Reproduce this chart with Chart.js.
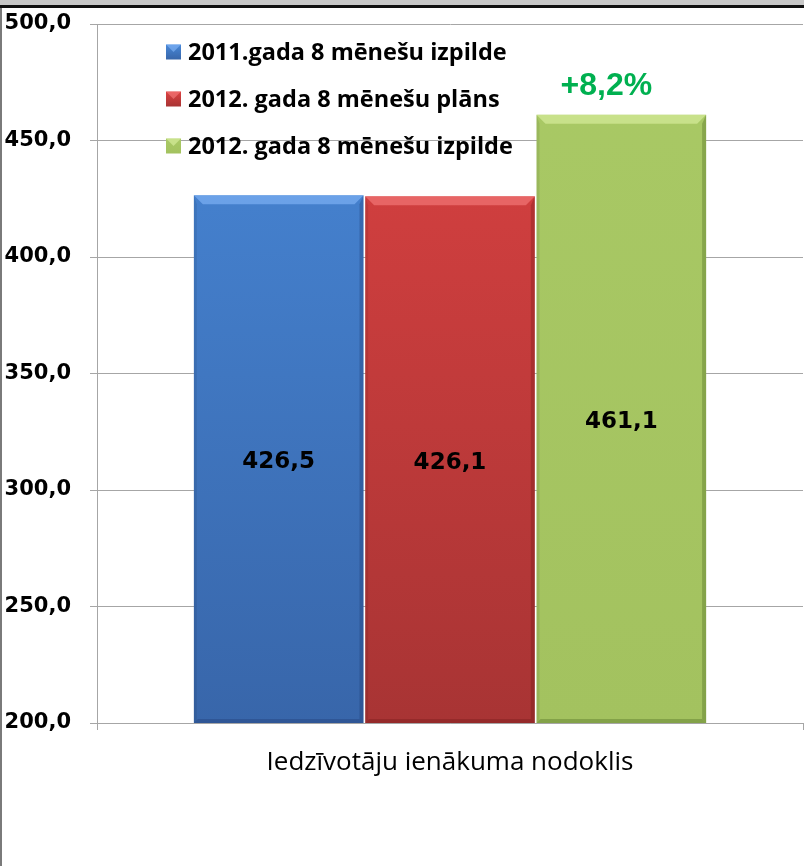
<!DOCTYPE html>
<html><head><meta charset="utf-8">
<script src="https://cdn.jsdelivr.net/npm/chart.js@4.4.0/dist/chart.umd.min.js"></script>
<style>html,body{margin:0;padding:0;background:#fff;overflow:hidden}#wrap{width:804px;height:866px;position:relative}</style>
</head><body><div id="wrap"><canvas id="c" width="804" height="866"></canvas></div>
<script>
// ---- data ----
const categories = ['Iedzīvotāju ienākuma nodoklis'];
const seriesLabels = ['2011.gada 8 mēnešu izpilde', '2012. gada 8 mēnešu plāns', '2012. gada 8 mēnešu izpilde'];
const values2011 = [426.5];
const plan2012 = [426.1];
const actual2012 = [461.1];
const growthNote = ['+8,2%'];
const yTickMin = 200, yTickMax = 500, yTickStep = 50;

// ---- styles ----
const topColors = ['#4888d8', '#dc4242', '#a9c965'];
const bottomColors = ['#3866aa', '#a83434', '#a3c25f'];
const bevelLight = ['rgba(140,190,255,0.55)', 'rgba(255,140,140,0.5)', 'rgba(225,245,170,0.55)'];
const bevelDark = ['rgba(20,40,90,0.25)', 'rgba(90,10,10,0.25)', 'rgba(60,90,20,0.3)'];
const FONT_TEXT = "'Open Sans', sans-serif";
const FONT_NUM = "'DejaVu Sans', sans-serif";

function fmt(v){ return v.toFixed(1).replace('.', ','); }

function gradFor(i){
  return function(context){
    const chart = context.chart; const ca = chart.chartArea;
    if (!ca) return topColors[i];
    const el = context.element;
    const top = el && isFinite(el.y) ? el.y : ca.top;
    const g = chart.ctx.createLinearGradient(0, top, 0, ca.bottom);
    g.addColorStop(0, topColors[i]);
    g.addColorStop(1, bottomColors[i]);
    return g;
  };
}

const framePlugin = {
  id: 'frame',
  beforeDraw(chart){
    const ctx = chart.ctx;
    ctx.save();
    ctx.fillStyle = '#fff'; ctx.fillRect(0,0,chart.width,chart.height);
    ctx.fillStyle = '#c8c8c8'; ctx.fillRect(0,0,chart.width,5);
    ctx.fillStyle = '#111'; ctx.fillRect(0,5,chart.width,3);
    ctx.fillStyle = '#7a7a7a'; ctx.fillRect(0,8,2,chart.height-8);
    ctx.restore();
  }
};

const bevelPlugin = {
  id: 'bevel',
  afterDatasetsDraw(chart){
    const ctx = chart.ctx;
    const ca = chart.chartArea;
    chart.data.datasets.forEach((ds, di) => {
      const meta = chart.getDatasetMeta(di);
      meta.data.forEach((el, idx) => {
        const l = el.x - el.width/2, r = el.x + el.width/2, t = el.y, b = Math.min(el.base, ca.bottom), s = 9;
        ctx.save();
        ctx.fillStyle = bevelLight[di];
        ctx.beginPath(); ctx.moveTo(l,t); ctx.lineTo(r,t); ctx.lineTo(r-s,t+s); ctx.lineTo(l+s,t+s); ctx.closePath(); ctx.fill();
        ctx.fillStyle = bevelDark[di];
        ctx.beginPath(); ctx.moveTo(r,t); ctx.lineTo(r,b); ctx.lineTo(r-4,b-4); ctx.lineTo(r-4,t+s); ctx.closePath(); ctx.fill();
        ctx.beginPath(); ctx.moveTo(l,b); ctx.lineTo(r,b); ctx.lineTo(r-4,b-4); ctx.lineTo(l+4,b-4); ctx.closePath(); ctx.fill();
        ctx.fillStyle = 'rgba(0,0,0,0.08)';
        ctx.beginPath(); ctx.moveTo(l,t); ctx.lineTo(l+3,t+s); ctx.lineTo(l+3,b-3); ctx.lineTo(l,b); ctx.closePath(); ctx.fill();
        // value label
        ctx.fillStyle = '#000';
        ctx.font = "bold 23px " + FONT_NUM;
        ctx.textAlign = 'center'; ctx.textBaseline = 'middle';
        ctx.fillText(fmt(ds.data[idx]), el.x, (t + b)/2 + 3);
        ctx.restore();
      });
    });
    // growth note above last bar
    const lastMeta = chart.getDatasetMeta(chart.data.datasets.length - 1);
    const gEl = lastMeta.data[0];
    ctx.save();
    ctx.fillStyle = '#00b050';
    ctx.font = "bold 32px 'Liberation Sans', Arial, sans-serif";
    ctx.textAlign = 'center'; ctx.textBaseline = 'middle';
    ctx.fillText(growthNote[0], gEl.x - 15, gEl.y - 28);
    ctx.restore();
    // legend
    ctx.save();
    chart.data.datasets.forEach((ds, di) => {
      const cy = 52 + di * 47, sx = 166, sz = 15;
      const g = ctx.createLinearGradient(0, cy - sz/2, 0, cy + sz/2);
      g.addColorStop(0, topColors[di]); g.addColorStop(1, bottomColors[di]);
      ctx.fillStyle = g; ctx.fillRect(sx, cy - sz/2, sz, sz);
      ctx.fillStyle = bevelLight[di];
      ctx.beginPath(); ctx.moveTo(sx, cy-sz/2); ctx.lineTo(sx+sz, cy-sz/2); ctx.lineTo(sx+sz/2, cy); ctx.closePath(); ctx.fill();
      ctx.fillStyle = '#000';
      ctx.font = "bold 23.5px " + FONT_TEXT;
      ctx.textAlign = 'left'; ctx.textBaseline = 'middle';
      ctx.fillText(ds.label, 188, cy + 1);
    });
    ctx.restore();
  }
};

new Chart(document.getElementById('c'), {
  type: 'bar',
  data: {
    labels: categories,
    datasets: [
      { label: seriesLabels[0], data: values2011, backgroundColor: gradFor(0) },
      { label: seriesLabels[1], data: plan2012, backgroundColor: gradFor(1) },
      { label: seriesLabels[2], data: actual2012, backgroundColor: gradFor(2) }
    ]
  },
  options: {
    responsive: false, animation: false, devicePixelRatio: 1,
    categoryPercentage: 0.728, barPercentage: 0.99,
    layout: { padding: { top: 24, right: 1, left: 0, bottom: 0 } },
    plugins: { legend: { display: false }, tooltip: { enabled: false } },
    scales: {
      y: {
        min: yTickMin, max: yTickMax,
        ticks: { stepSize: yTickStep, callback: v => fmt(v), color: '#000', font: { family: FONT_NUM, size: 21, weight: 'bold' }, padding: 19 },
        grid: { color: '#a6a6a6', lineWidth: 1, tickLength: 7, tickColor: '#a6a6a6' },
        border: { color: '#a6a6a6' },
        afterFit(scale){ scale.width = 97; scale.paddingTop = 10; scale.paddingBottom = 10; }
      },
      x: {
        offset: true,
        ticks: { color: '#000', font: { family: FONT_TEXT, size: 26 }, padding: 17 },
        grid: { drawOnChartArea: false, tickLength: 7, color: '#a6a6a6', offset: true },
        border: { color: '#a6a6a6' },
        afterFit(scale){ scale.height = 143; }
      }
    }
  },
  plugins: [framePlugin, bevelPlugin]
});
</script></body></html>
